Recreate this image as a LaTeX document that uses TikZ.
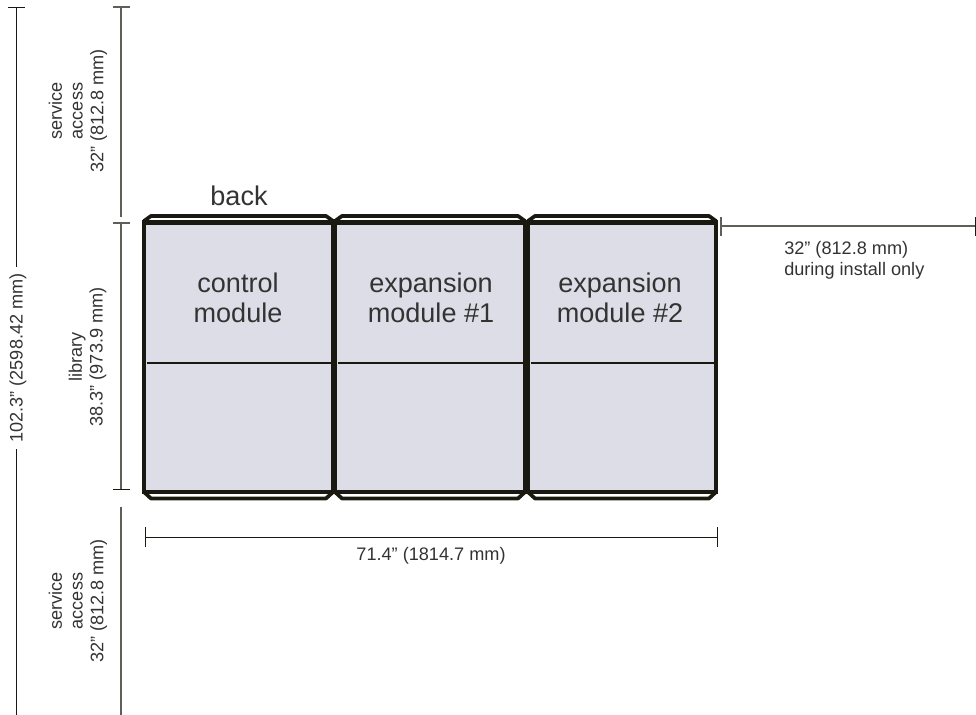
\documentclass[tikz,border=0pt]{standalone}
\usepackage{fontspec}
\setmainfont{Liberation Sans}
\definecolor{modulefill}{RGB}{221,221,231}
\definecolor{dimgrey}{RGB}{95,95,90}
\definecolor{framedark}{RGB}{25,25,18}

\begin{document}
\begin{tikzpicture}[x=0.75pt,y=-0.75pt]
  \tikzstyle{modulebox}=[fill=modulefill,draw=framedark,line width=3.5pt,line join=miter]
  \tikzstyle{backrail}=[draw=framedark,line width=2.8pt,line join=bevel]
  \tikzstyle{divider}=[draw=framedark,line width=1.3pt]
  \tikzstyle{dimline}=[draw=framedark,line width=0.7pt]
  \tikzstyle{greyline}=[draw=dimgrey,line width=0.8pt]
  \tikzstyle{modulelabel}=[align=center,font=\fontsize{20.3}{22.5}\selectfont,text=black!80,inner sep=0pt]
  \tikzstyle{dimlabel}=[align=center,font=\fontsize{13.6}{15.6}\selectfont,text=black!80,inner sep=0pt]

  \useasboundingbox (0,0) rectangle (976,715);

  % modules
  \foreach \name/\xa/\xb in {ctrl/144/333, expa/335/525, expb/528/716} {
    \draw[backrail] (\xa,221) -- (\xa+7,216) -- (\xb-7,216) -- (\xb,221);
    \draw[backrail] (\xa,492) -- (\xa+7,498.5) -- (\xb-7,498.5) -- (\xb,492);
    \draw[modulebox] (\xa,222.5) rectangle (\xb,492);
    \coordinate (\name l) at (\xa+3,363);
    \coordinate (\name r) at (\xb-1,363);
    \draw[divider] (\name l) -- (\name r);
  }

  \node[modulelabel] (back) at (239,196) {back};
  \node[modulelabel] (ctrllabel) at (238,298) {control\\module};
  \node[modulelabel] (expalabel) at (431,298) {expansion\\module \#1};
  \node[modulelabel] (expblabel) at (620,298) {expansion\\module \#2};

  % overall height
  \node[dimlabel,rotate=90,outer sep=5pt] (total) at (18,358) {102.3" (2598.42 mm)};
  \coordinate (totaltop) at (16.5,7);
  \coordinate (totalbot) at (16.5,715);
  \draw[dimline] (totaltop) -- (totaltop |- total.east);
  \draw[dimline] (totalbot |- total.west) -- (totalbot);
  \draw[dimline] (8,7) -- (25,7);

  % service access, library
  \coordinate (topa) at (121,7);
  \coordinate (topb) at (121,217);
  \coordinate (liba) at (121,223);
  \coordinate (libb) at (121,489);
  \coordinate (bota) at (121,507);
  \coordinate (botb) at (121,715);
  \draw[greyline] (topa) -- (topb);
  \draw[greyline] (liba) -- (libb);
  \draw[greyline] (bota) -- (botb);
  \draw[greyline] (113,7) -- (130,7);
  \draw[greyline] (113,223) -- (130,223);
  \draw[dimline] (113,489) -- (130,489);

  \node[dimlabel,rotate=90] (svctop) at (78,111) {service\\access\\32" (812.8 mm)};
  \node[dimlabel,rotate=90] (lib) at (87.5,357) {library\\38.3" (973.9 mm)};
  \node[dimlabel,rotate=90] (svcbot) at (78,601) {service\\access\\32" (812.8 mm)};

  % width
  \coordinate (widtha) at (145,537);
  \coordinate (widthb) at (717,537);
  \draw[dimline] (widtha) -- (widthb);
  \draw[dimline] (145,527) -- (145,547);
  \draw[dimline] (717,527) -- (717,547);
  \node[dimlabel] (width) at (431,556) {71.4" (1814.7 mm)};

  % install clearance
  \coordinate (insta) at (721,226);
  \coordinate (instb) at (975.5,226);
  \draw[greyline] (insta) -- (instb);
  \draw[greyline] (721,217) -- (721,236);
  \draw[dimline] (975.5,217) -- (975.5,236);
  \node[dimlabel,align=left,anchor=west] (inst) at (784,260) {32" (812.8 mm)\\during install only};
\end{tikzpicture}
\end{document}
